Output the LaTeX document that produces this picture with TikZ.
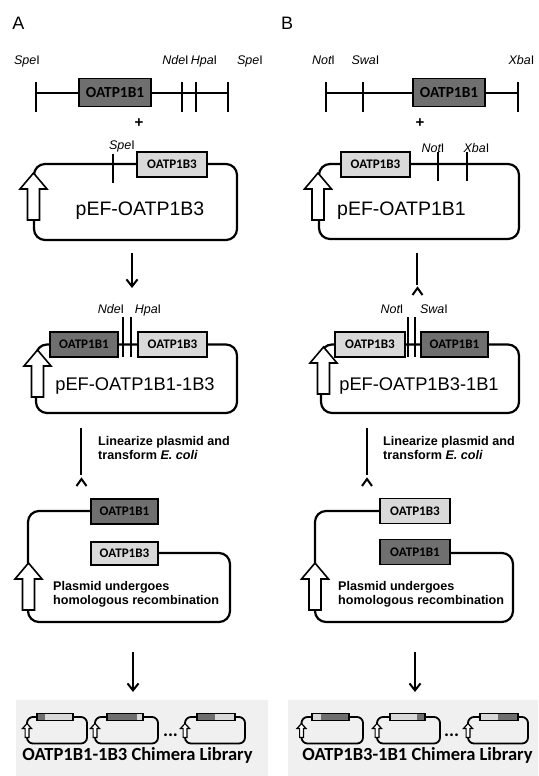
\documentclass[tikz,border=0pt]{standalone}
\usepackage{fontspec}
\setmainfont{Liberation Sans}
\newfontfamily\carl{Carlito}
\usetikzlibrary{arrows.meta,calc}
\definecolor{dkg}{HTML}{6F6F6F}
\definecolor{ltg}{HTML}{D9D9D9}
\definecolor{bgg}{HTML}{F0F0F0}
\tikzset{
 pl/.style={line width=2.2pt, rounded corners=11pt},
 tck/.style={line width=2.2pt},
 gbox/.style={draw, line width=1.6pt, minimum height=25pt, minimum width=69pt, inner sep=0pt, font=\carl\bfseries\fontsize{13.1}{14}\selectfont},
 bigbox/.style={minimum height=28pt, minimum width=72pt, font=\carl\bfseries\fontsize{15.4}{16}\selectfont},
 dkbox/.style={gbox, fill=dkg},
 ltbox/.style={gbox, fill=ltg},
 enz/.style={font=\fontsize{12.5}{14}\selectfont, inner sep=0pt, anchor=base},
 ptext/.style={font=\fontsize{19.5}{22}\selectfont, inner sep=0pt, anchor=base},
 ptextb/.style={font=\fontsize{18.3}{22}\selectfont, inner sep=0pt, anchor=base},
 btext/.style={font=\bfseries\fontsize{12.6}{14}\selectfont, inner sep=0pt, anchor=base west},
 darr/.style={line width=2pt, -{Straight Barb[length=7pt,width=11pt]}},
 wharr/.style={draw, fill=white, line width=1.6pt, line join=miter},
 caret/.style={line width=2pt},
 lib/.style={font=\carl\bfseries\fontsize{18.5}{20}\selectfont, inner sep=0pt, anchor=base},
 panel/.style={font=\fontsize{18}{20}\selectfont, inner sep=0pt, anchor=base},
}
\newcommand\blkarrow[2]{%
 \draw[wharr] (#1,#2) -- ++(13.5,16) -- ++(-7.5,0) -- ++(0,31) -- ++(-12,0) -- ++(0,-31) -- ++(-7.5,0) -- cycle;}
\newcommand\minipl[7]{%
 \draw[line width=1.8pt, rounded corners=6pt] (#3,717) -- (#1,717) -- (#1,743.5) -- (#2,743.5) -- (#2,717) -- (#5,717);
 \fill[#6] (#3,713.5) rectangle (#4,720.5);
 \fill[#7] (#4,713.5) rectangle (#5,720.5);
 \draw[line width=1.3pt] (#3,713.5) rectangle (#5,720.5);
 \draw[line width=1.2pt, fill=white, line join=miter] (#1,723.5) -- ++(4.5,5) -- ++(-2.6,0) -- ++(0,9) -- ++(-3.8,0) -- ++(0,-9) -- ++(-2.6,0) -- cycle;}
\begin{document}
\begin{tikzpicture}[x=1pt,y=-1pt]
\useasboundingbox (0,0) rectangle (538,776);
% ---------------- panel labels
\node[panel] (labA) at (18.5,30) {A};
\node[panel] (labB) at (287,30) {B};

% ================= PANEL A =================
% insert fragment
\draw[tck] (36,93) -- (228,93);
\foreach \x in {36,182,196,228} \draw[tck] (\x,82) -- (\x,112);
\node[dkbox, bigbox] (a0box) at (115,92.5) {OATP1B1};
\node[enz] (aSpe1) at (27,64) {\itshape Spe\upshape I};
\node[enz] (aNde1) at (175.5,64) {\itshape Nde\upshape I};
\node[enz] (aHpa1) at (204,64) {\itshape Hpa\upshape I};
\node[enz] (aSpe2) at (250,64) {\itshape Spe\upshape I};
\node[font=\bfseries\fontsize{15}{16}\selectfont] (aplus) at (139,123) {+};
% plasmid pEF-OATP1B3
\draw[pl] (34,164) rectangle (237,240);
\draw[tck] (113,154) -- (113,183);
\node[enz] (aSpe3) at (122,149) {\itshape Spe\upshape I};
\node[ltbox, minimum width=70pt] (a1box) at (172,164.5) {OATP1B3};
\node[ptext] (a1txt) at (140,215) {pEF-OATP1B3};
\blkarrow{33.5}{173}
% arrow
\coordinate (a1s) at (132,253); \coordinate (a1e) at (132,288);
\draw[darr] (a1s) -- (a1e);
% plasmid pEF-OATP1B1-1B3
\draw[pl] (36,344.5) rectangle (237,413);
\node[dkbox, minimum width=68pt] (a2box1) at (84,344.5) {OATP1B1};
\node[ltbox] (a2box2) at (172.5,344.5) {OATP1B3};
\draw[tck] (123,317) -- (123,357);
\draw[tck] (131,317) -- (131,357);
\node[enz] (aNde2) at (111,313) {\itshape Nde\upshape I};
\node[enz] (aHpa2) at (148,313) {\itshape Hpa\upshape I};
\node[ptextb] (a2txt) at (135,390) {pEF-OATP1B1-1B3};
\blkarrow{37.5}{350}
% linearize
\coordinate (a2s) at (81,428); \coordinate (a2e) at (81,475);
\draw[caret] (a2s) -- (a2e);
\coordinate (a2c) at (81.5,479);
\draw[caret] ($(a2c)+(-5,7)$) -- (a2c) -- ($(a2c)+(5,7)$);
\node[btext] (alin1) at (98,445) {Linearize plasmid and};
\node[btext] (alin2) at (98,459) {transform \textit{E. coli}};
% recombination plasmid
\draw[pl] (91,511) -- (28,511) -- (28,622) -- (230,622) -- (230,553) -- (158,553);
\node[dkbox, minimum width=67pt] (a3box1) at (124.5,511.5) {OATP1B1};
\node[ltbox, minimum width=67pt, minimum height=23pt] (a3box2) at (124.5,553.5) {OATP1B3};
\node[btext] (arec1) at (53,590) {Plasmid undergoes};
\node[btext] (arec2) at (53,604) {homologous recombination};
\blkarrow{28.5}{563}
% arrow to library
\coordinate (a3s) at (133,652); \coordinate (a3e) at (133,692);
\draw[darr] (a3s) -- (a3e);
% library
\fill[bgg] (16,700) rectangle (268,776);
\minipl{27}{87}{37}{45}{73}{dkg}{ltg}
\minipl{95}{158}{107}{137}{143}{dkg}{ltg}
\minipl{185}{245}{197}{215}{235}{dkg}{ltg}
\node[font=\carl\bfseries\fontsize{18.7}{20}\selectfont, inner sep=0pt, anchor=base] (adots) at (170.5,736) {...};
\node[lib] (alib) at (137.5,760) {OATP1B1-1B3 Chimera Library};

% ================= PANEL B =================
\draw[tck] (326,93) -- (518,93);
\foreach \x in {326,363,518} \draw[tck] (\x,82) -- (\x,112);
\node[dkbox, bigbox] (b0box) at (449,92.5) {OATP1B1};
\node[enz] (bNot1) at (323.5,64) {\itshape Not\upshape I};
\node[enz] (bSwa1) at (365.5,64) {\itshape Swa\upshape I};
\node[enz] (bXba1) at (521.5,64) {\itshape Xba\upshape I};
\node[font=\bfseries\fontsize{15}{16}\selectfont] (bplus) at (420,123) {+};
% plasmid pEF-OATP1B1
\draw[pl] (319,164) rectangle (519,239);
\draw[tck] (438,152) -- (438,181);
\draw[tck] (467,152) -- (467,181);
\node[enz] (bNot2) at (433,152) {\itshape Not\upshape I};
\node[enz] (bXba2) at (476.5,152) {\itshape Xba\upshape I};
\node[ltbox] (b1box) at (375.5,164.5) {OATP1B3};
\node[ptext] (b1txt) at (401.5,215) {pEF-OATP1B1};
\blkarrow{318}{173}
% second step arrow
\coordinate (b1s) at (417,253); \coordinate (b1e) at (417,285);
\draw[caret] (b1s) -- (b1e);
\coordinate (b1c) at (417.5,288);
\draw[caret] ($(b1c)+(-5,7)$) -- (b1c) -- ($(b1c)+(5,7)$);
% plasmid pEF-OATP1B3-1B1
\draw[pl] (321,344.5) rectangle (519,413);
\node[ltbox, minimum width=70pt] (b2box1) at (370,344.5) {OATP1B3};
\node[dkbox, minimum width=67pt] (b2box2) at (454.5,344.5) {OATP1B1};
\draw[tck] (408,317) -- (408,357);
\draw[tck] (415,317) -- (415,357);
\node[enz] (bNot3) at (392,313) {\itshape Not\upshape I};
\node[enz] (bSwa2) at (434,313) {\itshape Swa\upshape I};
\node[ptextb] (b2txt) at (419,390) {pEF-OATP1B3-1B1};
\blkarrow{323.5}{347}
% linearize
\coordinate (b2s) at (367,428); \coordinate (b2e) at (367,475);
\draw[caret] (b2s) -- (b2e);
\coordinate (b2c) at (367,479);
\draw[caret] ($(b2c)+(-5,7)$) -- (b2c) -- ($(b2c)+(5,7)$);
\node[btext] (blin1) at (383,445) {Linearize plasmid and};
\node[btext] (blin2) at (383,459) {transform \textit{E. coli}};
% recombination plasmid
\draw[pl] (380,511) -- (315,511) -- (315,622) -- (513,622) -- (513,553) -- (450,553);
\node[ltbox, minimum width=70pt] (b3box1) at (415,511) {OATP1B3};
\node[dkbox, minimum width=70pt] (b3box2) at (415,552) {OATP1B1};
\node[btext] (brec1) at (338,590) {Plasmid undergoes};
\node[btext] (brec2) at (338,604) {homologous recombination};
\blkarrow{315}{563}
% arrow to library
\coordinate (b3s) at (415,652); \coordinate (b3e) at (415,692);
\draw[darr] (b3s) -- (b3e);
% library
\fill[bgg] (288,700) rectangle (538,776);
\minipl{301.5}{363}{312}{321}{349}{ltg}{dkg}
\minipl{377}{440}{390}{417}{425}{ltg}{dkg}
\minipl{468}{528}{480}{498}{518}{ltg}{dkg}
\node[font=\carl\bfseries\fontsize{18.7}{20}\selectfont, inner sep=0pt, anchor=base] (bdots) at (451.5,736) {...};
\node[lib] (blib) at (417.5,760) {OATP1B3-1B1 Chimera Library};
\end{tikzpicture}
\end{document}
